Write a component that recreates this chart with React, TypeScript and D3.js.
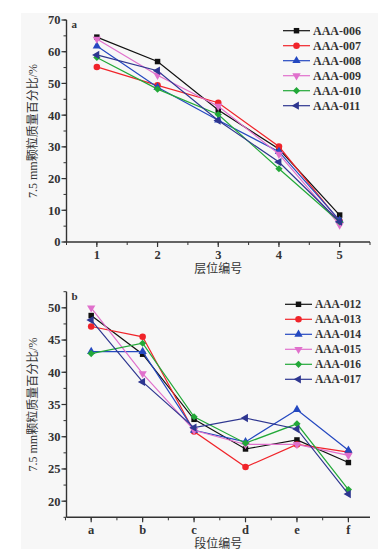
import React from 'react';
import * as d3 from 'd3';

// ---------- data ----------
const layersA = [1, 2, 3, 4, 5];
const namesA = ['AAA-006', 'AAA-007', 'AAA-008', 'AAA-009', 'AAA-010', 'AAA-011'];
const aaa006 = [64.6, 56.9, 41.6, 29.3, 8.5];
const aaa007 = [55.2, 49.4, 43.9, 30.1, 6.5];
const aaa008 = [61.8, 48.8, 38.4, 28.5, 6.8];
const aaa009 = [64.0, 52.6, 42.8, 27.7, 5.4];
const aaa010 = [58.2, 48.2, 40.2, 23.1, 6.3];
const aaa011 = [59.0, 54.0, 38.3, 25.2, 6.4];
const yTicksA = [0, 10, 20, 30, 40, 50, 60, 70];

const segmentsB = ['a', 'b', 'c', 'd', 'e', 'f'];
const namesB = ['AAA-012', 'AAA-013', 'AAA-014', 'AAA-015', 'AAA-016', 'AAA-017'];
const aaa012 = [48.8, 42.8, 32.7, 28.1, 29.5, 26.0];
const aaa013 = [47.1, 45.5, 30.8, 25.3, 28.8, 27.6];
const aaa014 = [43.2, 43.2, 31.0, 29.2, 34.2, 27.9];
const aaa015 = [50.0, 39.8, 31.0, 28.8, 28.8, 27.1];
const aaa016 = [42.9, 44.5, 33.1, 29.0, 32.0, 21.8];
const aaa017 = [48.1, 38.5, 31.4, 32.9, 31.2, 21.1];
const yTicksB = [20, 25, 30, 35, 40, 45, 50];

const colors = ['#111111', '#f0242a', '#2448c0', '#e070cc', '#22a838', '#2e3690'];
const shapes = ['square', 'circle', 'up', 'down', 'diamond', 'left'];

const serif = "'Liberation Serif', 'DejaVu Serif', 'Noto Sans CJK SC', serif";

function markerPath(shape: string) {
  const size = 30;
  switch (shape) {
    case 'square': return { d: d3.symbol(d3.symbolSquare, size)()!, rot: 0 };
    case 'circle': return { d: d3.symbol(d3.symbolCircle, size + 4)()!, rot: 0 };
    case 'up': return { d: d3.symbol(d3.symbolTriangle, size)()!, rot: 0 };
    case 'down': return { d: d3.symbol(d3.symbolTriangle, size)()!, rot: 180 };
    case 'diamond': return { d: d3.symbol(d3.symbolSquare, size - 4)()!, rot: 45 };
    case 'left': return { d: d3.symbol(d3.symbolTriangle, size)()!, rot: -90 };
  }
  return { d: d3.symbol(d3.symbolCircle, size)()!, rot: 0 };
}

function Marker({ x, y, i }: { x: number; y: number; i: number }) {
  const m = markerPath(shapes[i]);
  return <path d={m.d} transform={`translate(${x},${y}) rotate(${m.rot})`} fill={colors[i]} />;
}

type PanelProps = {
  letter: string;
  xDomain: [number, number];
  xRange: [number, number];
  yDomain: [number, number];
  yRange: [number, number];
  xLabels: string[];
  xValues: number[];
  yTicks: number[];
  yMinorStep: number;
  series: number[][];
  names: string[];
  xTitle: string;
  legendX: number;
  legendY: number;
  legendFont: number;
};

function Panel(p: PanelProps) {
  const x = d3.scaleLinear().domain(p.xDomain).range(p.xRange);
  const y = d3.scaleLinear().domain(p.yDomain).range(p.yRange);
  const line = d3.line<[number, number]>().x(d => x(d[0])).y(d => y(d[1]));
  const y0 = p.yRange[0];
  const x0 = p.xRange[0];
  const minorX: number[] = [];
  for (let v = p.xValues[0] - 0.5; v <= p.xDomain[1] + 1e-6; v += 0.5) minorX.push(v);
  const minorY: number[] = [];
  for (let v = p.yDomain[0]; v <= p.yDomain[1] + 1e-6; v += p.yMinorStep) minorY.push(v);
  const axisColor = '#333';
  const yMid = (p.yRange[0] + p.yRange[1]) / 2;
  const xMid = (p.xRange[0] + p.xRange[1]) / 2;
  return (
    <g>
      {/* series */}
      {p.series.map((s, i) => (
        <g key={i}>
          <path d={line(s.map((v, j) => [p.xValues[j], v] as [number, number]))!} fill="none" stroke={colors[i]} strokeWidth={1.2} />
          {s.map((v, j) => <Marker key={j} x={x(p.xValues[j])} y={y(v)} i={i} />)}
        </g>
      ))}
      {/* axes */}
      <line x1={x0} x2={x0} y1={p.yRange[0]} y2={p.yRange[1]} stroke={axisColor} strokeWidth={1.4} />
      <line x1={x0} x2={p.xRange[1]} y1={y0} y2={y0} stroke={axisColor} strokeWidth={1.4} />
      {minorY.map((v, k) => (
        <line key={'my' + k} x1={x0 - 3} x2={x0} y1={y(v)} y2={y(v)} stroke={axisColor} strokeWidth={1} />
      ))}
      {p.yTicks.map((v, k) => (
        <g key={'y' + k}>
          <line x1={x0 - 5} x2={x0} y1={y(v)} y2={y(v)} stroke={axisColor} strokeWidth={1.2} />
          <text x={x0 - 6} y={y(v)} dy="0.35em" textAnchor="end" fontSize={12.5} fontWeight="bold" fill="#333" fontFamily={serif}>{v}</text>
        </g>
      ))}
      {minorX.map((v, k) => (
        <line key={'mx' + k} x1={x(v)} x2={x(v)} y1={y0} y2={y0 + 3} stroke={axisColor} strokeWidth={1} />
      ))}
      {p.xValues.map((v, k) => (
        <g key={'x' + k}>
          <line x1={x(v)} x2={x(v)} y1={y0} y2={y0 + 5} stroke={axisColor} strokeWidth={1.2} />
          <text x={x(v)} y={y0 + 17} textAnchor="middle" fontSize={12.5} fontWeight="bold" fill="#333" fontFamily={serif}>{p.xLabels[k]}</text>
        </g>
      ))}
      <text x={x0 + 5} y={p.yRange[1] + 8} fontSize={11} fontWeight="bold" fill="#333" fontFamily={serif}>{p.letter}</text>
      <text x={xMid} y={y0 + 31} textAnchor="middle" fontSize={12} fill="#333" fontFamily={serif}>{p.xTitle}</text>
      <text transform={`translate(${33},${yMid}) rotate(-90)`} textAnchor="middle" dy="0.35em" fontSize={12} fill="#333" fontFamily={serif}>7.5 mm颗粒质量百分比/%</text>
      {/* legend */}
      {p.names.map((n, i) => {
        const ly = p.legendY + i * 15;
        return (
          <g key={'l' + i}>
            <line x1={p.legendX} x2={p.legendX + 27} y1={ly} y2={ly} stroke={colors[i]} strokeWidth={1.2} />
            <Marker x={p.legendX + 13.5} y={ly} i={i} />
            <text x={p.legendX + 30} y={ly} dy="0.35em" fontSize={p.legendFont} fontWeight="bold" fill="#333" fontFamily={serif}>{n}</text>
          </g>
        );
      })}
    </g>
  );
}

export default function App() {
  return (
    <svg width={378} height={553} style={{ position: 'absolute', left: 0, top: 0, display: 'block' }}>
      <rect x={0} y={0} width={378} height={553} fill="#ffffff" />
      <rect x={21} y={13} width={357} height={536} fill="#f7f7f7" />
      <Panel
        letter="a"
        xDomain={[0.5, 5.5]}
        xRange={[66.5, 370]}
        yDomain={[0, 70]}
        yRange={[242, 20]}
        xLabels={layersA.map(String)}
        xValues={layersA}
        yTicks={yTicksA}
        yMinorStep={5}
        series={[aaa006, aaa007, aaa008, aaa009, aaa010, aaa011]}
        names={namesA}
        xTitle="层位编号"
        legendX={283}
        legendY={30.7}
        legendFont={12}
      />
      <Panel
        letter="b"
        xDomain={[-0.48, 5.42]}
        xRange={[66.5, 370]}
        yDomain={[17.5, 52.5]}
        yRange={[517.3, 291.7]}
        xLabels={segmentsB}
        xValues={segmentsB.map((_, i) => i)}
        yTicks={yTicksB}
        yMinorStep={2.5}
        series={[aaa012, aaa013, aaa014, aaa015, aaa016, aaa017]}
        names={namesB}
        xTitle="段位编号"
        legendX={285}
        legendY={304.3}
        legendFont={11.5}
      />
    </svg>
  );
}
